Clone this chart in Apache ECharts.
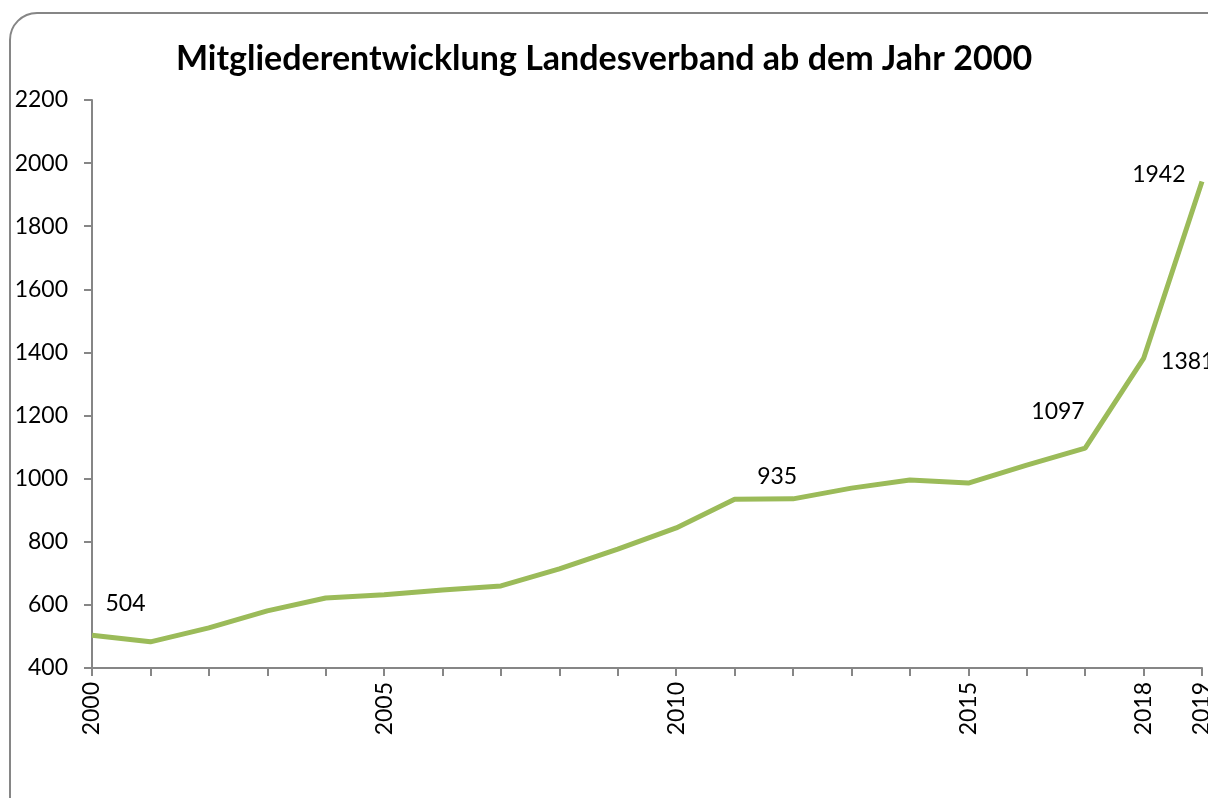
<!DOCTYPE html>
<html>
<head>
<meta charset="utf-8">
<script src="https://cdn.jsdelivr.net/npm/echarts@6/dist/echarts.min.js"></script>
<style>
  html, body { margin: 0; padding: 0; background: #fff; overflow: hidden; }
  #frame {
    position: absolute; left: 9px; top: 12px; width: 1240px; height: 820px;
    border: 2px solid #868686; border-radius: 28px; box-sizing: border-box;
  }
  #main { position: absolute; left: 0; top: 0; width: 1208px; height: 798px; }
</style>
</head>
<body>
<div id="frame"></div>
<div id="main"></div>
<script>
// Jahre und Mitgliederzahlen
const years = ["2000", "2001", "2002", "2003", "2004", "2005", "2006", "2007", "2008", "2009",
  "2010", "2011", "2012", "2013", "2014", "2015", "2016", "2017", "2018", "2019"];
const members = [504, 483, 527, 581, 622, 632, 647, 660, 714, 777,
  844, 935, 936, 970, 996, 986, 1043, 1097, 1381, 1942];
const labeledYears = ["2000", "2005", "2010", "2015", "2018", "2019"];

// Beschriftete Punkte und wo das Label sitzt
const pointLabels = {
  "2000": { position: "right", offset: [8, -32] },
  "2011": { position: "right", offset: [17, -23] },
  "2017": { position: "left", offset: [5, -36] },
  "2018": { position: "right", offset: [12, 3] },
  "2019": { position: "left", offset: [-11, -7] },
};

const seriesData = members.map((v, i) => {
  const cfg = pointLabels[years[i]];
  if (!cfg) return v;
  return {
    value: v,
    label: { show: true, position: cfg.position, offset: cfg.offset, distance: 5 },
  };
});

const chart = echarts.init(document.getElementById("main"));
const font = "Lato, 'Open Sans', sans-serif";

chart.setOption({
  animation: false,
  title: {
    text: "Mitgliederentwicklung Landesverband ab dem Jahr 2000",
    left: "center",
    top: 37,
    textStyle: { fontFamily: font, fontSize: 34, fontWeight: "bold", color: "#000" },
  },
  grid: { left: 92, right: 6, top: 100, bottom: 130, containLabel: false, outerBoundsMode: "none" },
  xAxis: {
    type: "category",
    data: years,
    boundaryGap: false,
    axisLine: { lineStyle: { color: "#868686", width: 2 } },
    axisTick: { show: true, length: 8, interval: 0, lineStyle: { color: "#868686", width: 2 } },
    axisLabel: {
      interval: (i, v) => labeledYears.includes(v),
      rotate: 90,
      margin: 14,
      fontFamily: font,
      fontSize: 23,
      color: "#000",
    },
  },
  yAxis: {
    type: "value",
    min: 400,
    max: 2200,
    interval: 200,
    axisLine: { show: true, lineStyle: { color: "#868686", width: 2 } },
    axisTick: { show: true, length: 8, lineStyle: { color: "#868686", width: 2 } },
    splitLine: { show: false },
    axisLabel: {
      margin: 24,
      fontFamily: font,
      fontSize: 23,
      color: "#000",
      formatter: (v) => String(v),
    },
  },
  series: [{
    type: "line",
    data: seriesData,
    symbol: "circle",
    symbolSize: 1,
    showSymbol: true,
    itemStyle: { color: "rgba(0,0,0,0)" },
    lineStyle: { color: "#9BBB59", width: 5 },
    label: { show: false, fontFamily: font, fontSize: 23, color: "#000" },
  }],
});
</script>
</body>
</html>
